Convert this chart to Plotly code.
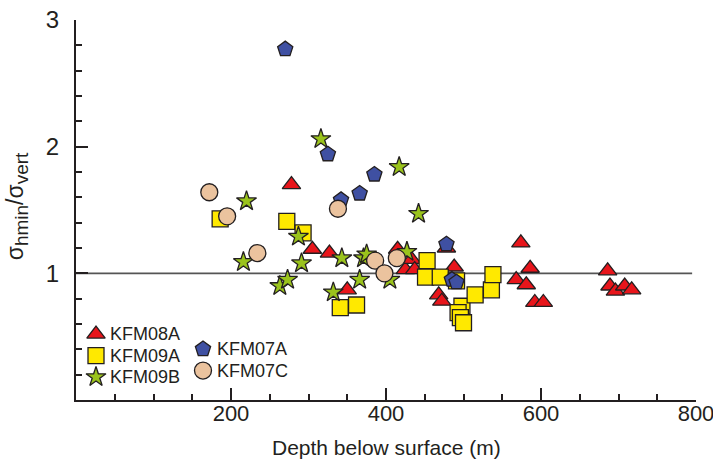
import plotly.graph_objects as go

# Borehole data: depth below surface (m) and stress ratio sigma_hmin / sigma_vert
kfm08a_depth = [278, 305, 327, 350, 415, 425, 433, 437, 478, 488, 468, 472,
                574, 586, 568, 581, 592, 603, 686, 689, 696, 708, 717]
kfm08a_ratio = [1.70, 1.19, 1.16, 0.87, 1.19, 1.03, 1.11, 1.03, 1.20, 1.05, 0.83, 0.78,
                1.24, 1.04, 0.95, 0.91, 0.77, 0.77, 1.02, 0.90, 0.86, 0.90, 0.87]

kfm09a_depth = [186, 272, 293, 341, 362, 453, 451, 470, 491, 498, 493, 496, 500,
                515, 536, 538]
kfm09a_ratio = [1.43, 1.41, 1.32, 0.73, 0.75, 1.10, 0.97, 0.97, 0.94, 0.74, 0.69, 0.65, 0.61,
                0.83, 0.87, 0.99]

kfm09b_depth = [216, 220, 263, 273, 287, 291, 316, 332, 343, 366, 371, 375, 405,
                417, 427, 442]
kfm09b_ratio = [1.09, 1.57, 0.90, 0.95, 1.29, 1.08, 2.06, 0.85, 1.12, 0.95, 1.12, 1.15, 0.95,
                1.84, 1.17, 1.47]

kfm07a_depth = [270, 325, 366, 342, 385, 478, 485, 491]
kfm07a_ratio = [2.77, 1.94, 1.63, 1.58, 1.78, 1.23, 0.95, 0.93]

kfm07c_depth = [172, 195, 234, 338, 386, 398, 414]
kfm07c_ratio = [1.64, 1.45, 1.16, 1.51, 1.10, 1.00, 1.12]

x_tick_vals = [200, 400, 600, 800]
y_tick_vals = [1, 2, 3]

INK = "#231F20"
FONT = "Liberation Sans, Arial, sans-serif"

series = [
    ("KFM08A", kfm08a_depth, kfm08a_ratio, "triangle-up", 16, "#E8151B"),
    ("KFM09A", kfm09a_depth, kfm09a_ratio, "square", 16, "#FFE900"),
    ("KFM09B", kfm09b_depth, kfm09b_ratio, "star", 15, "#9AC31C"),
    ("KFM07A", kfm07a_depth, kfm07a_ratio, "pentagon", 16, "#3F50A2"),
    ("KFM07C", kfm07c_depth, kfm07c_ratio, "circle", 17, "#EBC39E"),
]

# Plot-area geometry in pixels (used for margins and the key overlay)
PLOT_L, PLOT_R, PLOT_T, PLOT_B = 76, 696, 19.5, 400
W, H = 713, 475

fig = go.Figure()

for name, xs, ys, sym, size, col in series:
    fig.add_trace(go.Scatter(
        x=xs, y=ys, mode="markers", name=name, showlegend=False,
        cliponaxis=False,
        marker=dict(symbol=sym, size=size, color=col,
                    line=dict(color=INK, width=1.3)),
    ))

# Hand-placed key: two columns of symbols drawn on a pixel-scaled overlay axis
key_cols = {0: 96, 1: 203}
key_rows = {0: [334, 355.5, 377], 1: [349, 370.5]}
key_layout = [(0, 0), (0, 1), (0, 2), (1, 0), (1, 1)]
annotations = []
for (col_i, row_i), (name, _, _, sym, size, col) in zip(key_layout, series):
    kx = key_cols[col_i]
    ky = key_rows[col_i][row_i]
    fig.add_trace(go.Scatter(
        x=[kx], y=[ky], mode="markers", xaxis="x2", yaxis="y2",
        showlegend=False, cliponaxis=False, hoverinfo="skip",
        marker=dict(symbol=sym, size=size, color=col,
                    line=dict(color=INK, width=1.3)),
    ))
    annotations.append(dict(
        x=kx + 12, y=ky, xref="x2", yref="y2", text=name, showarrow=False,
        xanchor="left", yanchor="middle",
        font=dict(family=FONT, size=18, color=INK),
    ))

# Axis titles
annotations.append(dict(
    x=0.5, y=-0.126, xref="paper", yref="paper", showarrow=False,
    text="Depth below surface (m)", xanchor="center", yanchor="middle",
    font=dict(family=FONT, size=21, color=INK),
))
annotations.append(dict(
    x=-0.095, y=0.51, xref="paper", yref="paper", showarrow=False,
    text="σ<sub><span style='font-size:19px'>hmin</span></sub>/σ<sub><span style='font-size:19px'>vert</span></sub>",
    textangle=-90, xanchor="center", yanchor="middle",
    font=dict(family=FONT, size=23, color=INK),
))

# Reference line at ratio = 1
fig.add_shape(type="line", xref="x", yref="y", x0=0, x1=795, y0=1, y1=1,
              line=dict(color="#555555", width=1.6), layer="below")

axis_common = dict(
    showline=True, linecolor=INK, linewidth=2, showgrid=False, zeroline=False,
    ticks="inside", ticklen=12, tickwidth=2, tickcolor=INK,
    ticklabeloverflow="allow", automargin=False,
)

fig.update_layout(
    width=W, height=H,
    margin=dict(l=PLOT_L, r=W - PLOT_R, t=PLOT_T, b=H - PLOT_B),
    paper_bgcolor="white", plot_bgcolor="white",
    showlegend=False,
    xaxis=dict(range=[0, 800], tickmode="array", tickvals=x_tick_vals,
               ticklabelstandoff=-7,
               tickfont=dict(family=FONT, size=22, color=INK),
               minor=dict(tickmode="linear", tick0=0, dtick=50, ticks="inside",
                          ticklen=6, tickwidth=1.5, tickcolor=INK),
               **axis_common),
    yaxis=dict(range=[0, 3], tickmode="array", tickvals=y_tick_vals,
               ticklabelstandoff=10,
               tickfont=dict(family=FONT, size=24, color=INK),
               minor=dict(tickmode="linear", tick0=0, dtick=0.2, ticks="inside",
                          ticklen=6, tickwidth=1.5, tickcolor=INK),
               **axis_common),
    xaxis2=dict(overlaying="x", range=[PLOT_L, PLOT_R], visible=False,
                fixedrange=True, automargin=False),
    yaxis2=dict(overlaying="y", range=[PLOT_B, PLOT_T], visible=False,
                fixedrange=True, automargin=False),
    annotations=annotations,
)

fig.write_html("out.html")
